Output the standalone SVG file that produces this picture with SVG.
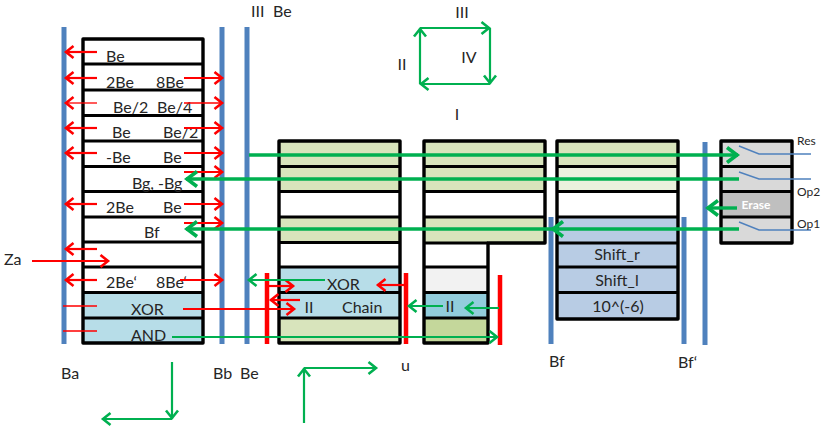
<svg xmlns="http://www.w3.org/2000/svg" width="826" height="432" viewBox="0 0 826 432">
  <style>
    text { font-family: Lato, "Liberation Sans", Arial, sans-serif; font-size: 16px; fill: #262626; }
    .m { text-anchor: middle; }
    .small { font-size: 12px; }
    .frame { fill: none; stroke: #000; stroke-width: 3.4; stroke-linejoin: round; }
    .sep { stroke: #000; stroke-width: 3; }
    .bus { stroke: #4f81bd; stroke-width: 5; fill: none; }
    .bar { stroke: #ff0000; stroke-width: 4.5; fill: none; }
    .r { stroke: #ff0000; stroke-width: 2.2; fill: none; marker-end: url(#ra); }
    .rt { stroke: #ff0000; stroke-width: 1.3; fill: none; marker-end: url(#ra); }
    .rn { stroke: #ff0000; stroke-width: 1.6; fill: none; }
    .g { stroke: #00b050; stroke-width: 2.2; fill: none; marker-end: url(#ga); }
    .gb { stroke: #00b050; stroke-width: 3.4; fill: none; marker-end: url(#gb); }
    .sw { stroke: #4f81bd; stroke-width: 1.4; fill: none; }
    .lg { fill: #d8e4bc; } .lb { fill: #b7dde8; } .db { fill: #b8cce4; } .gy { fill: #d9d9d9; }
  </style>
  <defs>
    <marker id="ra" markerUnits="userSpaceOnUse" markerWidth="16" markerHeight="16" refX="13" refY="8" orient="auto">
      <path d="M4.500 2L12 8L4.500 14" fill="none" stroke="#ff0000" stroke-width="2.600"/>
    </marker>
    <marker id="ga" markerUnits="userSpaceOnUse" markerWidth="16" markerHeight="16" refX="13" refY="8" orient="auto">
      <path d="M4.500 2L12 8L4.500 14" fill="none" stroke="#00b050" stroke-width="2.600"/>
    </marker>
    <marker id="gb" markerUnits="userSpaceOnUse" markerWidth="18" markerHeight="20" refX="15" refY="10" orient="auto">
      <path d="M4 2.500L14 10L4 17.500" fill="none" stroke="#00b050" stroke-width="3.600"/>
    </marker>
  </defs>

  <!-- register file A -->
  <g id="stack-a">
    <rect class="lb" x="83" y="293" width="120" height="50"/>
    <rect class="frame" x="83" y="39" width="120" height="304"/>
    <path class="sep" d="M83 64H203M83 90H203M83 115.500H203M83 141H203M83 166.500H203M83 191.500H203M83 217H203M83 242H203M83 267H203M83 292.500H203M83 318H203"/>
    <text x="106" y="62">Be</text>
    <text x="106" y="88">2Be</text><text x="156" y="88">8Be</text>
    <text x="113" y="113">Be/2</text><text x="157" y="113">Be/4</text>
    <text x="112" y="138">Be</text><text x="163" y="138">Be/2</text>
    <text x="106" y="163">-Be</text><text x="163" y="163">Be</text>
    <text x="132" y="189">Bg, -Bg</text>
    <text x="106" y="213">2Be</text><text x="163" y="213">Be</text>
    <text x="144" y="238">Bf</text>
    <text x="106" y="288">2Be‘</text><text x="156" y="288">8Be‘</text>
    <text x="131" y="315">XOR</text>
    <text x="131" y="341">AND</text>
  </g>

  <!-- register file B -->
  <g id="stack-b">
    <rect class="lg" x="279" y="141" width="121" height="51"/>
    <rect class="lg" x="279" y="217" width="121" height="25"/>
    <rect class="lb" x="279" y="267" width="121" height="51"/>
    <rect class="lg" x="279" y="318" width="121" height="25"/>
    <rect class="frame" x="279" y="141" width="121" height="202"/>
    <path class="sep" d="M279 166.500H400M279 191.500H400M279 217H400M279 242.500H400M279 267H400M279 292.500H400M279 318H400"/>
    <text x="327" y="290">XOR</text>
    <text class="m" x="309" y="313">II</text>
    <text x="342" y="313">Chain</text>
  </g>

  <!-- register file C -->
  <g id="stack-c">
    <rect class="lg" x="424" y="141" width="121" height="51"/>
    <rect class="lg" x="424" y="217" width="121" height="25"/>
    <rect fill="#f2f2f2" x="424" y="267" width="64" height="25"/>
    <rect fill="#92cddc" x="424" y="293" width="64" height="25"/>
    <rect fill="#c4d79b" x="424" y="318" width="64" height="25"/>
    <path class="frame" d="M424 141H545V243H488V343H424Z"/>
    <path class="sep" d="M424 166.500H545M424 191.500H545M424 217H545M424 243H488M424 267H488M424 292.500H488M424 318H488"/>
    <text class="m" x="450" y="312">II</text>
  </g>

  <!-- register file D -->
  <g id="stack-d">
    <rect class="lg" x="557" y="141" width="121" height="25"/>
    <rect fill="#ebf1de" x="557" y="167" width="121" height="25"/>
    <rect class="db" x="557" y="217" width="121" height="102"/>
    <rect class="frame" x="557" y="141" width="121" height="178"/>
    <path class="sep" d="M557 166.500H678M557 191.500H678M557 217H678M557 243H678M557 267H678M557 292.500H678"/>
    <text class="m" x="617" y="260">Shift_r</text>
    <text class="m" x="617" y="286">Shift_l</text>
    <text class="m" x="618" y="312">10^(-6)</text>
  </g>

  <!-- operation panel E -->
  <g id="stack-e">
    <rect class="gy" x="721" y="141" width="71" height="102"/>
    <rect fill="#bfbfbf" x="721" y="192" width="71" height="25"/>
    <rect class="frame" x="721" y="141" width="71" height="102"/>
    <path class="sep" d="M721 166.500H792M721 191.500H792M721 217H792"/>
    <text class="m" x="756" y="209" style="fill:#fff;font-size:12px;font-weight:bold">Erase</text>
    <path class="sw" d="M739 146L759 154H811M739 172L759 179H811M739 222L759 230H811"/>
    <text class="small" x="797" y="145">Res</text>
    <text class="small" x="797" y="196">Op2</text>
    <text class="small" x="797" y="228">Op1</text>
  </g>

  <!-- buses -->
  <g id="buses">
    <path class="bus" d="M64 27V344M222 27V344M247 27V344M551 217V344M684 217V344M705 142V345"/>
    <path class="bar" d="M267 273V344M406 273V344M500 275V345"/>
  </g>

  <!-- connectors -->
  <g id="connectors">
    <path class="r" d="M97 52H65"/><path class="r" d="M97 78H65"/><path class="rt" d="M97 103H65"/>
    <path class="r" d="M97 128H65"/><path class="r" d="M97 153H65"/><path class="r" d="M97 204H65"/>
    <path class="r" d="M97 249H65"/><path class="r" d="M97 280H65"/>
    <path class="rn" d="M63 306H97M63 331H97"/>
    <path class="r" d="M184 78H223"/><path class="rt" d="M184 103H223"/><path class="r" d="M184 128H223"/>
    <path class="r" d="M184 153H223"/><path class="r" d="M184 172H223"/><path class="r" d="M184 204H223"/>
    <path class="r" d="M184 223H223"/><path class="r" d="M180 280H223"/>
    <path class="r" d="M32 261H109"/>
    <path class="r" d="M183 309H295"/>
    <path class="r" d="M267 286H294"/><path class="r" d="M300 300H270"/><path class="r" d="M405 285H377"/>
    <path class="gb" d="M249 155H738"/>
    <path class="gb" d="M739 179H186"/>
    <path class="gb" d="M739 229H552"/>
    <path class="gb" d="M552 229H186"/>
    <path class="gb" d="M737 208H707"/>
    <path class="g" d="M325 280H248"/>
    <path class="g" d="M443 306H408"/><path class="g" d="M499 308H465"/>
    <path class="g" d="M172 337H498"/>
    <path class="g" d="M172 362V419"/><path class="g" d="M172 419H102"/>
    <path class="g" d="M304 423V368"/><path class="g" d="M304 368H377"/>
    <path class="g" d="M420 84V28"/><path class="g" d="M420 28H490"/>
    <path class="g" d="M490 28V84"/><path class="g" d="M490 84H420"/>
  </g>

  <!-- free labels -->
  <g id="labels">
    <text x="251" y="17">III<tspan x="273">Be</tspan></text>
    <text class="m" x="462" y="18">III</text>
    <text class="m" x="402" y="70">II</text>
    <text class="m" x="469" y="63">IV</text>
    <text class="m" x="457" y="120">I</text>
    <text x="4" y="265">Za</text>
    <text x="61" y="379">Ba</text>
    <text x="213" y="379">Bb<tspan x="240">Be</tspan></text>
    <text x="401" y="371">u</text>
    <text x="549" y="367">Bf</text>
    <text x="678" y="368">Bf‘</text>
  </g>
</svg>
